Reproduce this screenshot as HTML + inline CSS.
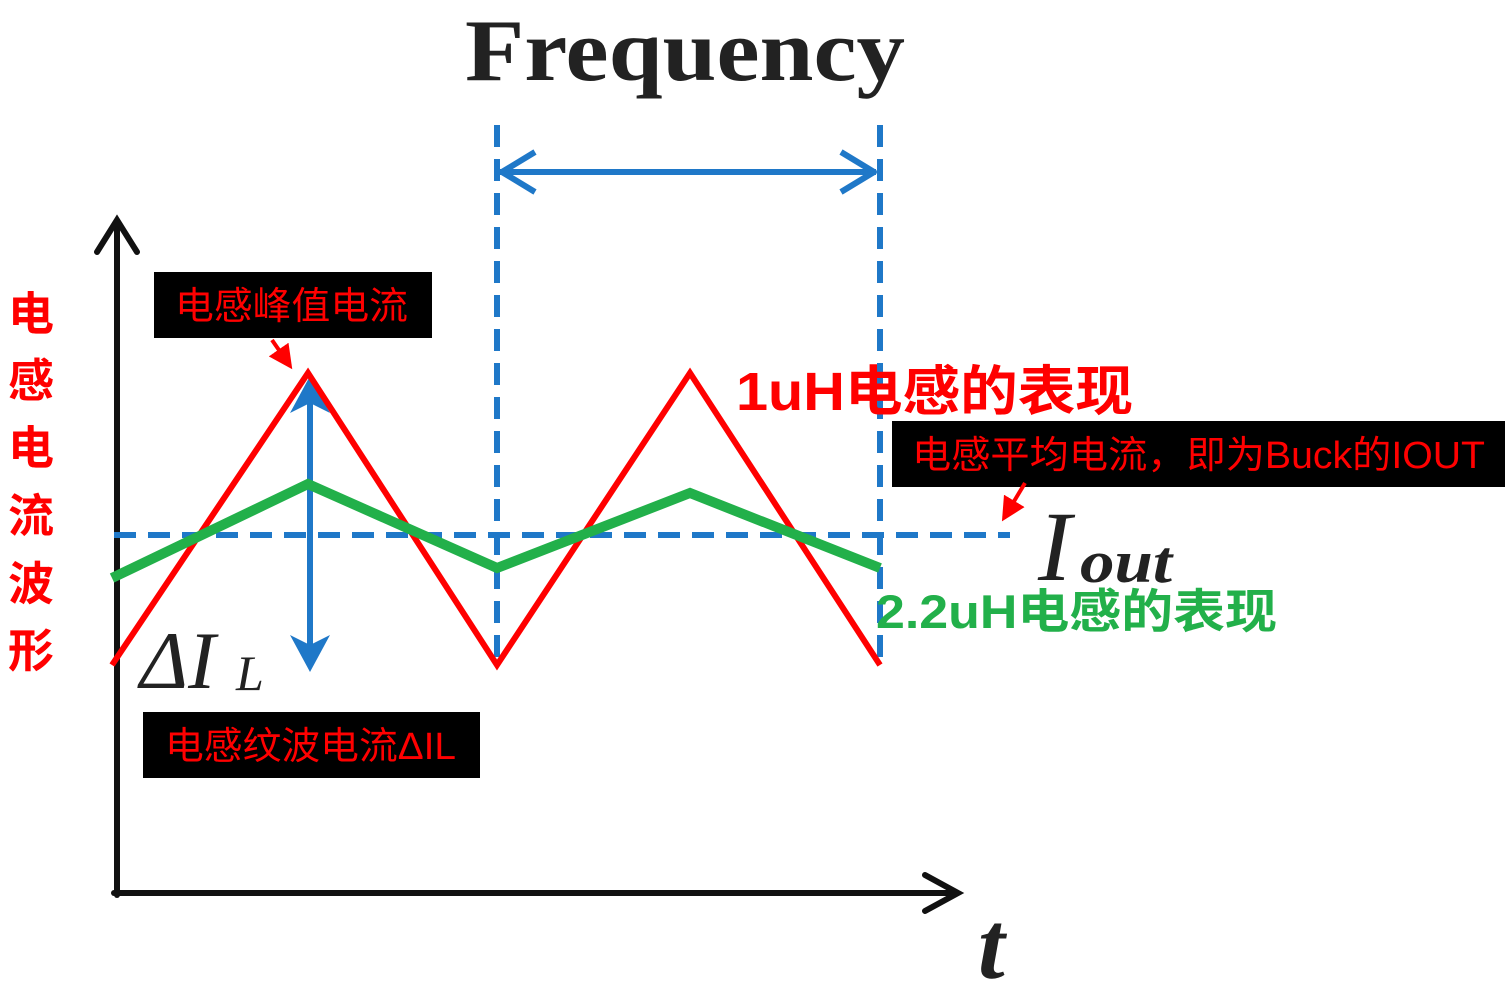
<!DOCTYPE html>
<html><head><meta charset="utf-8"><style>
body{margin:0;background:#fff;}
svg{display:block}
</style></head><body>
<svg width="1505" height="991" viewBox="0 0 1505 991" xmlns="http://www.w3.org/2000/svg">
<defs>
<marker id="ra" markerWidth="6" markerHeight="6" refX="5" refY="3" orient="auto" markerUnits="strokeWidth"><path d="M0,0 L6,3 L0,6 z" fill="#f00"/></marker>
</defs>
<rect width="1505" height="991" fill="#fff"/>
<text x="465" y="80" font-family="Liberation Serif, serif" font-size="88" font-weight="bold" fill="#222" textLength="440" lengthAdjust="spacingAndGlyphs">Frequency</text>
<!-- axes -->
<g stroke="#111" stroke-width="6" fill="none" stroke-linecap="round">
<line x1="117" y1="222" x2="117" y2="895"/>
<polyline points="97,252 117,220 137,252"/>
<line x1="114" y1="893" x2="955" y2="893"/>
<polyline points="925,875 958,893 925,911"/>
</g>
<!-- blue dashed -->
<g stroke="#1f78c8" stroke-width="6" fill="none" stroke-dasharray="22,12">
<line x1="114" y1="535" x2="1010" y2="535"/>
<line x1="497" y1="125" x2="497" y2="665"/>
<line x1="880" y1="125" x2="880" y2="665"/>
</g>
<g stroke="#1f78c8" stroke-width="6" fill="none" stroke-linejoin="round">
<line x1="500" y1="172" x2="876" y2="172"/>
<polyline points="535,152 502,172 535,192"/>
<polyline points="841,152 874,172 841,192"/>
<line x1="310" y1="390" x2="310" y2="660"/>
</g>
<g fill="#1f78c8">
<path d="M310,376 L330,413 L310,403 L290,413 z"/>
<path d="M310,672 L330,635 L310,645 L290,635 z"/>
</g>
<polyline points="112,665 308,373 497,665 690,373 880,665" stroke="#f00" stroke-width="6" fill="none"/>
<polyline points="112,578 308,484 497,568 690,493 880,568" stroke="#22b04a" stroke-width="10" fill="none"/>
<!-- labels -->
<text x="140" y="688" font-family="Liberation Serif, serif" font-style="italic" font-size="82" fill="#222">ΔI</text>
<text x="236" y="690" font-family="Liberation Serif, serif" font-style="italic" font-size="50" fill="#222">L</text>
<text x="1038" y="580" font-family="Liberation Serif, serif" font-style="italic" font-size="100" fill="#222">I</text>
<text x="1080" y="582" font-family="Liberation Serif, serif" font-style="italic" font-weight="bold" font-size="60" fill="#222" textLength="92" lengthAdjust="spacingAndGlyphs">out</text>
<text x="978" y="978" font-family="Liberation Serif, serif" font-style="italic" font-weight="bold" font-size="96" fill="#222">t</text>
<g font-family="Liberation Sans, 'Noto Sans CJK SC', sans-serif">
<rect x="154" y="272" width="278" height="66" fill="#000"/>
<text x="175" y="319" font-size="38" fill="#f00" textLength="233" lengthAdjust="spacingAndGlyphs">电感峰值电流</text>
<rect x="143" y="712" width="337" height="66" fill="#000"/>
<text x="165" y="759" font-size="38" fill="#f00" textLength="291" lengthAdjust="spacingAndGlyphs">电感纹波电流ΔIL</text>
<rect x="892" y="421" width="613" height="66" fill="#000"/>
<text x="912" y="468" font-size="38" fill="#f00" textLength="573" lengthAdjust="spacingAndGlyphs">电感平均电流，即为Buck的IOUT</text>
<text x="736" y="410" font-size="54" font-weight="bold" fill="#f00" textLength="397" lengthAdjust="spacingAndGlyphs">1uH电感的表现</text>
<text x="876" y="628" font-size="47" font-weight="bold" fill="#22b04a" textLength="401" lengthAdjust="spacingAndGlyphs">2.2uH电感的表现</text>
<g font-size="46" font-weight="bold" fill="#f00" text-anchor="middle">
<text x="31" y="330">电</text><text x="31" y="397">感</text><text x="31" y="464">电</text>
<text x="31" y="532">流</text><text x="31" y="600">波</text><text x="31" y="667">形</text>
</g>
</g>
<line x1="272" y1="340" x2="290" y2="366" stroke="#f00" stroke-width="4" marker-end="url(#ra)"/>
<line x1="1025" y1="483" x2="1004" y2="518" stroke="#f00" stroke-width="4" marker-end="url(#ra)"/>
</svg>
</body></html>
